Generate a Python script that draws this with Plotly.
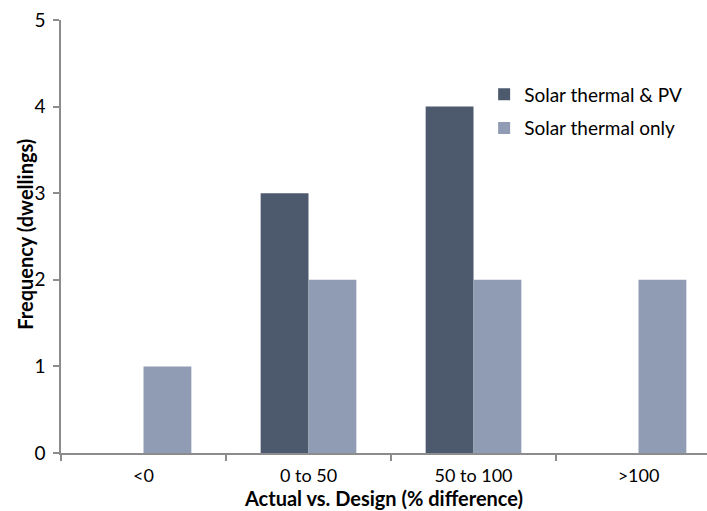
import plotly.graph_objects as go

# Frequency of dwellings by actual-vs-design difference band
categories = ["<0", "0 to 50", "50 to 100", ">100"]
thermal_pv = [0, 3, 4, 0]
thermal_only = [1, 2, 2, 2]
series_names = ["Solar thermal & PV", "Solar thermal only"]
y_title = "Frequency (dwellings)"
x_title = "Actual vs. Design (% difference)"

DARK = "#4d5a6e"
LIGHT = "#8f9cb3"
AXIS = "#8c8c8c"
FONT = "Lato, 'Open Sans', sans-serif"

xpos = list(range(len(categories)))

fig = go.Figure()
fig.add_trace(go.Bar(x=xpos, y=thermal_pv, name=series_names[0],
                     marker=dict(color=DARK, line=dict(width=0)),
                     legendgroup="a"))
fig.add_trace(go.Bar(x=xpos, y=thermal_only, name=series_names[1],
                     marker=dict(color=LIGHT, line=dict(width=0)),
                     legendgroup="b"))

fig.update_layout(
    width=707, height=511,
    margin=dict(l=61, r=0, t=20, b=58),
    paper_bgcolor="white", plot_bgcolor="white",
    barmode="group", bargap=0.42, bargroupgap=0,
    font=dict(family=FONT, size=19, color="#000000"),
    legend=dict(x=0.655, y=0.872, xanchor="left", yanchor="top",
                traceorder="grouped", tracegroupgap=6,
                font=dict(size=19), bgcolor="rgba(0,0,0,0)",
                itemwidth=30),
    showlegend=True,
)

fig.update_xaxes(
    range=[-0.5, -0.5 + 646 / 165],
    tickmode="array", tickvals=xpos, ticktext=categories,
    ticks="", showgrid=False, zeroline=False,
    showline=True, linecolor=AXIS, linewidth=1.5,
    tickfont=dict(size=18), ticklabelstandoff=6,
    minor=dict(tickmode="array", tickvals=[-0.5, 0.5, 1.5, 2.5, 3.5],
               ticks="outside", ticklen=6, tickcolor=AXIS, tickwidth=1.5,
               showgrid=False),
    title=dict(text=f"<b>{x_title}</b>", font=dict(size=20), standoff=3),
)
fig.update_yaxes(
    range=[0, 5], tickvals=[0, 1, 2, 3, 4, 5],
    ticks="outside", ticklen=6, tickcolor=AXIS, tickwidth=1.5,
    showgrid=False, zeroline=False,
    showline=True, linecolor=AXIS, linewidth=1.5,
    tickfont=dict(size=19), ticklabelstandoff=4,
)

# Vertical y-axis title, set close to the tick labels
fig.add_annotation(
    text=f"<b>{y_title}</b>", textangle=-90,
    xref="paper", yref="paper", x=-0.056, y=0.506,
    xanchor="center", yanchor="middle", showarrow=False,
    font=dict(size=20),
)

fig.write_html("out.html")
